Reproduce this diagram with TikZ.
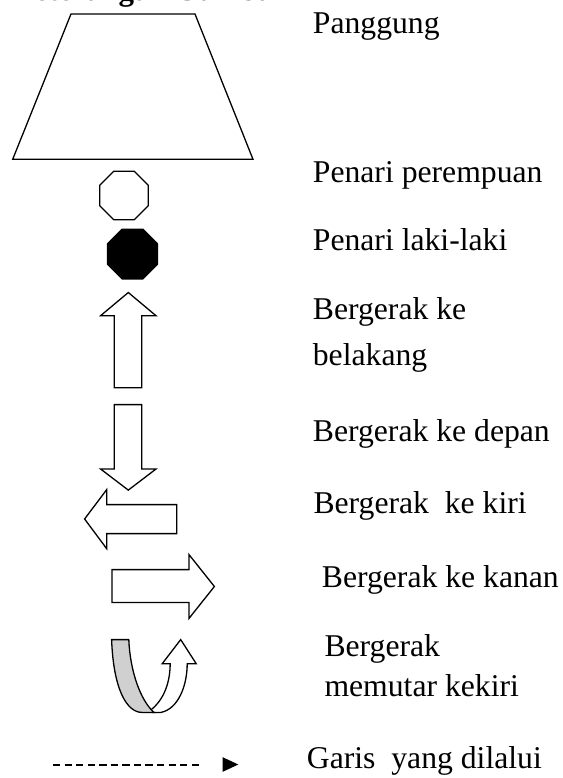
\documentclass[tikz,border=0pt]{standalone}
\usepackage{fontspec}
\setmainfont{Liberation Serif}
\usetikzlibrary{shapes.geometric}
\definecolor{bandgray}{HTML}{D0D0D0}
\tikzset{
  outline/.style={draw=black, line width=1.3bp, line join=miter, fill=white},
  label/.style={anchor=base west, inner sep=0pt, font=\fontsize{31.8}{38}\selectfont},
  octa/.style={regular polygon, regular polygon sides=8, inner sep=0pt, draw=black, line width=1.3bp},
  trail/.style={draw=black, line width=2bp, dash pattern=on 7.3bp off 4.26bp}
}
\begin{document}
\begin{tikzpicture}[x=1bp, y=-1bp]
\useasboundingbox (0,0) rectangle (563,778);
\clip (0,0) rectangle (563,778);

% heading (only its lower edge lies inside the frame)
\node[label, font=\fontsize{31.1}{37}\selectfont\bfseries] (head) at (10,1) {Keterangan Gambar};

% stage
\draw[outline] (71,14) -- (195,14) -- (253,159.3) -- (12.7,159.3) -- cycle;
\node[label] (tStage) at (312.7,34) {Panggung};

% dancers
\node[octa, minimum size=52.7bp, fill=white] (female) at (124,195.5) {};
\node[label] (tFemale) at (312.7,182.5) {Penari perempuan};
\node[octa, minimum size=53.8bp, fill=black] (male) at (132.5,254) {};
\node[label] (tMale) at (312.7,250) {Penari laki-laki};

% move backward (up arrow)
\draw[outline] (128.3,292.5) -- (156,315.7) -- (141.7,315.7) -- (141.7,387.7)
  -- (114.3,387.7) -- (114.3,315.7) -- (100.6,315.7) -- cycle;
\node[label] (tBack1) at (312.7,319) {Bergerak ke};
\node[label] (tBack2) at (312.7,365.5) {belakang};

% move forward (down arrow)
\draw[outline] (114.3,404.6) -- (141.7,404.6) -- (141.7,469) -- (156,469)
  -- (128.3,490.1) -- (100.6,469) -- (114.3,469) -- cycle;
\node[label] (tFwd) at (312.7,441.7) {Bergerak ke depan};

% move left
\draw[outline] (84.6,519) -- (106.7,489.6) -- (106.7,504.6) -- (176.7,504.6)
  -- (176.7,533.6) -- (106.7,533.6) -- (106.7,548.7) -- cycle;
\node[label] (tLeft) at (313.3,513.5) {Bergerak~ ke kiri};

% move right
\draw[outline] (214.4,586.5) -- (189,554.6) -- (189,569.6) -- (112,569.6)
  -- (112,602.4) -- (189,602.4) -- (189,618.4) -- cycle;
\node[label] (tRight) at (321.7,587) {Bergerak ke kanan};

% turn to the left (U-turn arrow)
\draw[outline] (152,712.4) -- (161,712.4)
  .. controls (178,709) and (187.2,686) .. (187.2,663.7)
  -- (196.2,663.7) -- (180.7,639.6) -- (162.2,663.7) -- (170.2,663.7)
  .. controls (170,686) and (162,702) .. (149,711.4) -- cycle;
\draw[outline, fill=bandgray] (111.6,639.6) -- (128.8,639.6)
  .. controls (130,670) and (140,700) .. (154,712.4)
  -- (142,712.4)
  .. controls (127,712.4) and (113.5,690) .. (111.6,639.6) -- cycle;
\node[label] (tTurn1) at (324.3,656.5) {Bergerak};
\node[label] (tTurn2) at (324.3,696.5) {memutar kekiri};

% path legend
\coordinate (ds) at (53,765);
\coordinate (de) at (199,765);
\draw[trail] (ds) -- (de);
\fill (222.7,757.2) -- (238.3,764.5) -- (222.7,771.8) -- cycle;
\node[label] (tPath) at (306.7,768) {Garis~ yang dilalui};
\end{tikzpicture}
\end{document}
